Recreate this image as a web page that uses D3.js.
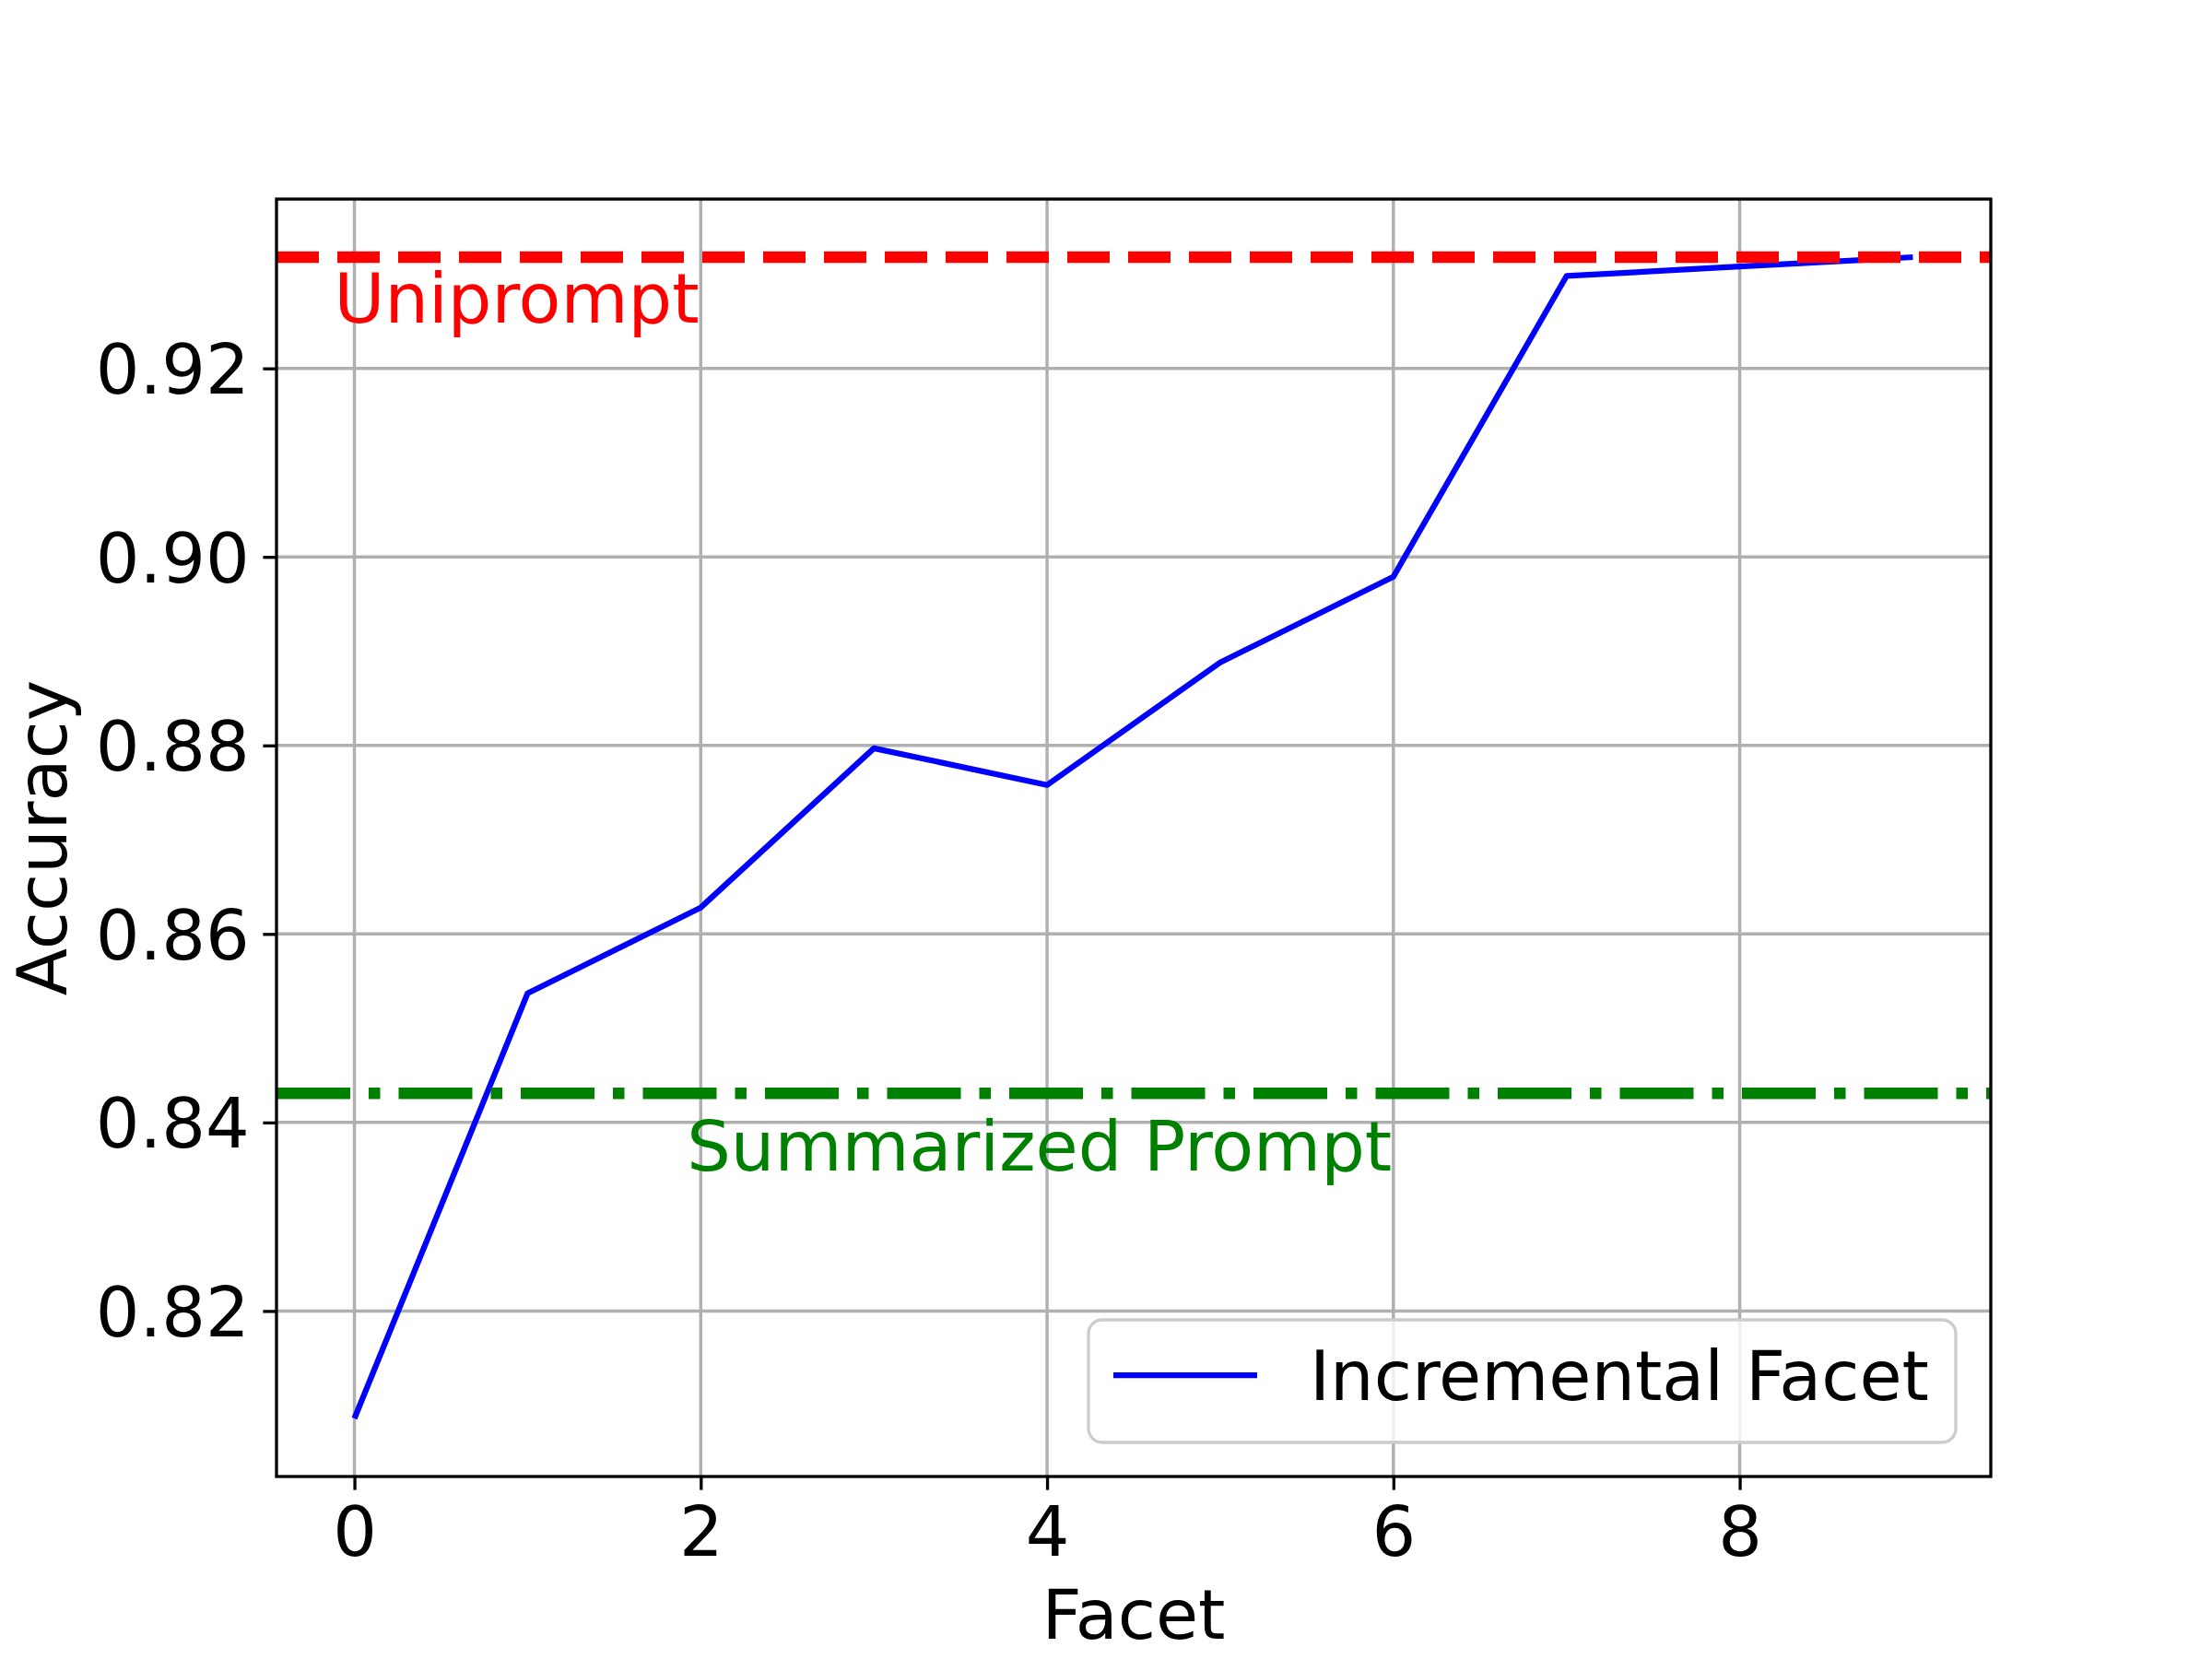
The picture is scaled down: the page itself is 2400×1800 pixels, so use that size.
<!DOCTYPE html>
<html>
<head>
<meta charset="utf-8">
<script src="https://cdnjs.cloudflare.com/ajax/libs/d3/7.8.5/d3.min.js"></script>
<style>
  body { margin: 0; background: #fff; }
  text { font-family: "DejaVu Sans", sans-serif; }
</style>
</head>
<body>
<div id="chart"></div>
<script>
// data
var facets = [0, 1, 2, 3, 4, 5, 6, 7, 8, 9];
var accuracy = [0.8086, 0.8537, 0.8628, 0.8797, 0.8758, 0.8888, 0.8979, 0.9298, 0.9308, 0.9318];
var xTicks = [0, 2, 4, 6, 8];
var yTicks = [0.82, 0.84, 0.86, 0.88, 0.90, 0.92];
var uniprompt = 0.9318;
var summarized = 0.8431;
var seriesName = "Incremental Facet";

// 1: dimensions
var W = 2400, H = 1800;
var margin = {top: 216, right: 240, bottom: 198, left: 300};
var width = W - margin.left - margin.right,
    height = H - margin.top - margin.bottom;
var fs = 75;

var svg = d3.select("#chart").append("svg")
    .attr("width", W)
    .attr("height", H)
  .append("g")
    .attr("transform", "translate(" + margin.left + "," + margin.top + ")");

// 2: scales (matplotlib style 5% margins)
var xPad = (d3.max(facets) - d3.min(facets)) * 0.05;
var x = d3.scaleLinear()
    .domain([d3.min(facets) - xPad, d3.max(facets) + xPad])
    .range([0, width]);
var yLo = d3.min(accuracy.concat([uniprompt, summarized])),
    yHi = d3.max(accuracy.concat([uniprompt, summarized]));
var yPad = (yHi - yLo) * 0.05;
var y = d3.scaleLinear()
    .domain([yLo - yPad, yHi + yPad])
    .range([height, 0]);

// 3: grid
svg.append("g").selectAll("line.gx").data(xTicks).enter().append("line")
    .attr("x1", d => x(d)).attr("x2", d => x(d))
    .attr("y1", 0).attr("y2", height)
    .style("stroke", "#b0b0b0").style("stroke-width", 3.5);
svg.append("g").selectAll("line.gy").data(yTicks).enter().append("line")
    .attr("x1", 0).attr("x2", width)
    .attr("y1", d => y(d)).attr("y2", d => y(d))
    .style("stroke", "#b0b0b0").style("stroke-width", 3.5);

// 4: series
var line = d3.line()
    .x((d, i) => x(facets[i]))
    .y(d => y(d));
svg.append("path")
    .datum(accuracy)
    .attr("d", line)
    .style("fill", "none")
    .style("stroke", "#0000ff")
    .style("stroke-width", 6.25)
    .style("stroke-linejoin", "round");

// reference lines
svg.append("line")
    .attr("x1", 0).attr("x2", width)
    .attr("y1", y(uniprompt)).attr("y2", y(uniprompt))
    .style("stroke", "#ff0000").style("stroke-width", 12.5)
    .style("stroke-dasharray", "46,20");
svg.append("line")
    .attr("x1", 0).attr("x2", width)
    .attr("y1", y(summarized)).attr("y2", y(summarized))
    .style("stroke", "#008000").style("stroke-width", 12.5)
    .style("stroke-dasharray", "80,20,12.5,20");

svg.append("text")
    .attr("x", x(-0.117)).attr("y", y(0.9249))
    .style("font-size", fs + "px").style("fill", "#ff0000")
    .text("Uniprompt");
svg.append("text")
    .attr("x", x(1.92)).attr("y", y(0.8349))
    .style("font-size", fs + "px").style("fill", "#008000")
    .text("Summarized Prompt");

// 5: axes
var xAxis = svg.append("g")
    .attr("transform", "translate(0," + height + ")")
    .call(d3.axisBottom(x).tickValues(xTicks).tickFormat(d3.format("d"))
      .tickSize(14.6).tickPadding(14.6));
var yAxis = svg.append("g")
    .call(d3.axisLeft(y).tickValues(yTicks).tickFormat(d3.format(".2f"))
      .tickSize(14.6).tickPadding(14.6));
[xAxis, yAxis].forEach(function(a) {
  a.select(".domain").remove();
  a.selectAll(".tick line").style("stroke", "#000").style("stroke-width", 3.3);
  a.selectAll(".tick text").style("font-size", fs + "px").style("fill", "#000")
    .style("font-family", "DejaVu Sans");
});
xAxis.selectAll(".tick text").attr("dy", "0.76em");
yAxis.selectAll(".tick text").attr("dy", "0.36em");

// spines
svg.append("rect")
    .attr("x", 0).attr("y", 0)
    .attr("width", width).attr("height", height)
    .style("fill", "none").style("stroke", "#000").style("stroke-width", 3.3);

// axis labels
svg.append("text")
    .attr("x", width / 2).attr("y", 1778 - margin.top)
    .attr("text-anchor", "middle")
    .style("font-size", fs + "px")
    .text("Facet");
svg.append("text")
    .attr("transform", "translate(" + (72 - margin.left) + "," + (height / 2) + ") rotate(-90)")
    .attr("text-anchor", "middle")
    .style("font-size", fs + "px")
    .text("Accuracy");

// 6: legend
var lg = svg.append("g")
    .attr("transform", "translate(" + (1181 - margin.left) + "," + (1432 - margin.top) + ")");
lg.append("rect")
    .attr("width", 941).attr("height", 133)
    .attr("rx", 15).attr("ry", 15)
    .style("fill", "#fff").style("fill-opacity", 0.8)
    .style("stroke", "#cccccc").style("stroke-width", 3.3);
lg.append("line")
    .attr("x1", 27).attr("x2", 183)
    .attr("y1", 60).attr("y2", 60)
    .style("stroke", "#0000ff").style("stroke-width", 6.25);
lg.append("text")
    .attr("x", 240).attr("y", 87)
    .style("font-size", fs + "px")
    .text(seriesName);
</script>
</body>
</html>
